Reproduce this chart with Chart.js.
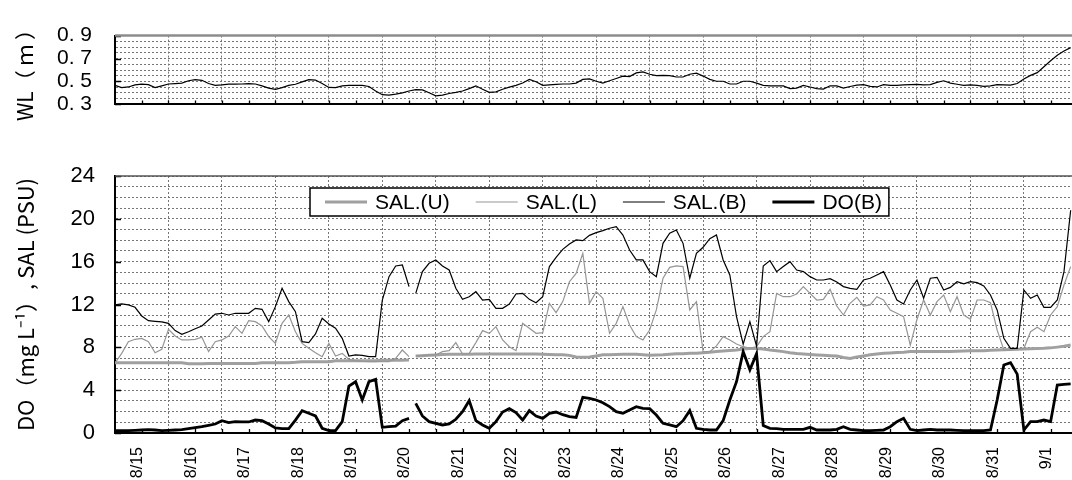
<!DOCTYPE html>
<html>
<head>
<meta charset="utf-8">
<script src="https://cdn.jsdelivr.net/npm/chart.js@4.4.1/dist/chart.umd.min.js"></script>
<style>
  html, body { margin: 0; padding: 0; background: #fff; overflow: hidden; }
  #wrap { position: relative; width: 1072px; height: 480px; }
  #wlBox { position: absolute; left: 0; top: 0; width: 1072px; height: 140px; }
  #doBox { position: absolute; left: 0; top: 140px; width: 1072px; height: 340px; }
</style>
</head>
<body>
<div id="wrap">
  <div id="wlBox"><canvas id="wlChart"></canvas></div>
  <div id="doBox"><canvas id="doChart"></canvas></div>
</div>
<script>
// 3-hourly records, 8 per day, from 8/15 00:00
const STEP = 1 / 8;
const X_MAX = 17.9;
const days = ['8/15', '8/16', '8/17', '8/18', '8/19', '8/20', '8/21', '8/22', '8/23',
  '8/24', '8/25', '8/26', '8/27', '8/28', '8/29', '8/30', '8/31', '9/1'];

// water level (m)
const wl = [
  0.466, 0.446, 0.452, 0.47, 0.476, 0.472, 0.446, 0.462, 0.478, 0.482,
  0.486, 0.506, 0.516, 0.51, 0.482, 0.466, 0.47, 0.476, 0.476, 0.478,
  0.482, 0.478, 0.462, 0.442, 0.432, 0.446, 0.466, 0.476, 0.496, 0.516,
  0.512, 0.482, 0.448, 0.446, 0.462, 0.466, 0.466, 0.466, 0.456, 0.417,
  0.385, 0.381, 0.389, 0.401, 0.417, 0.428, 0.426, 0.401, 0.375, 0.381,
  0.395, 0.405, 0.417, 0.438, 0.462, 0.432, 0.405, 0.409, 0.432, 0.45,
  0.466, 0.486, 0.518, 0.498, 0.466, 0.47, 0.474, 0.478, 0.478, 0.486,
  0.518, 0.522, 0.502, 0.486, 0.506, 0.526, 0.547, 0.543, 0.575, 0.583,
  0.563, 0.551, 0.553, 0.551, 0.539, 0.539, 0.563, 0.573, 0.547, 0.518,
  0.502, 0.502, 0.478, 0.478, 0.502, 0.502, 0.486, 0.466, 0.462, 0.462,
  0.462, 0.438, 0.442, 0.466, 0.452, 0.438, 0.434, 0.462, 0.462, 0.442,
  0.456, 0.468, 0.472, 0.458, 0.452, 0.472, 0.466, 0.466, 0.47, 0.472,
  0.474, 0.47, 0.472, 0.492, 0.506, 0.486, 0.476, 0.466, 0.47, 0.466,
  0.458, 0.462, 0.472, 0.47, 0.468, 0.482, 0.522, 0.553, 0.577, 0.628,
  0.68, 0.729, 0.765, 0.795
];

// salinity, upper layer (PSU)
const salU = [
  6.57, 6.57, 6.57, 6.57, 6.57, 6.57, 6.57, 6.57, 6.57, 6.57,
  6.57, 6.47, 6.47, 6.47, 6.5, 6.5, 6.5, 6.5, 6.5, 6.5,
  6.5, 6.5, 6.57, 6.57, 6.57, 6.57, 6.57, 6.6, 6.66, 6.66,
  6.66, 6.66, 6.66, 6.74, 6.74, 6.74, 6.74, 6.74, 6.74, 6.74,
  6.8, 6.8, 6.8, 6.8, 6.82, 7.19, 7.22, 7.26, 7.29, 7.32,
  7.35, 7.35, 7.35, 7.35, 7.38, 7.38, 7.38, 7.38, 7.38, 7.38,
  7.38, 7.38, 7.38, 7.38, 7.35, 7.32, 7.3, 7.3, 7.25, 7.1,
  7.07, 7.1, 7.2, 7.3, 7.3, 7.32, 7.35, 7.35, 7.35, 7.3,
  7.25, 7.28, 7.3, 7.35, 7.4, 7.4, 7.44, 7.44, 7.5, 7.55,
  7.6, 7.65, 7.7, 7.75, 7.85, 7.9, 7.9, 7.85, 7.75, 7.68,
  7.6, 7.5, 7.42, 7.38, 7.33, 7.29, 7.25, 7.22, 7.19, 7.05,
  6.97, 7.1, 7.2, 7.3, 7.38, 7.44, 7.48, 7.52, 7.55, 7.6,
  7.6, 7.6, 7.6, 7.6, 7.62, 7.62, 7.64, 7.66, 7.68, 7.69,
  7.69, 7.72, 7.75, 7.78, 7.8, 7.81, 7.84, 7.87, 7.9, 7.91,
  7.95, 8.02, 8.1, 8.22
];

// salinity, lower layer (PSU)
const salL = [
  6.51, 7.44, 8.53, 8.75, 8.84, 8.53, 7.5, 7.81, 9.68, 9.06,
  8.69, 8.69, 8.75, 8.94, 7.6, 8.53, 8.69, 9.06, 9.93, 9.31,
  10.49, 10.4, 9.99, 9.0, 8.37, 10.24, 11.02, 9.46, 8.37, 7.91,
  7.5, 7.13, 8.37, 7.19, 7.44, 6.88, 6.76, 6.69, 6.66, 6.66,
  6.66, 6.66, 6.97, 7.75, 7.13, 7.19, 7.25, 7.3, 7.29, 7.6,
  7.69, 8.44, 7.38, 7.44, 8.44, 9.56, 9.31, 9.93, 8.69, 8.06,
  7.69, 10.24, 9.78, 9.31, 9.37, 12.11, 11.24, 12.27, 14.13, 14.91,
  16.78, 12.11, 13.2, 12.58, 9.31, 10.24, 11.8, 10.09, 9.0, 8.69,
  9.62, 11.49, 14.45, 15.47, 15.6, 15.54, 11.49, 12.27, 7.6, 7.6,
  8.13, 9.0, 8.69, 8.31, 8.06, 7.91, 8.06, 9.0, 9.46, 13.04,
  12.73, 12.73, 12.98, 13.67, 13.04, 12.42, 12.48, 13.42, 11.86, 11.02,
  12.11, 12.67, 11.86, 11.96, 12.73, 12.42, 11.49, 11.18, 10.87, 8.2,
  10.6, 12.42, 11.02, 12.27, 12.89, 11.33, 12.73, 11.02, 10.62, 12.42,
  12.42, 12.17, 9.62, 7.75, 7.75, 7.88, 7.91, 9.46, 9.87, 9.46,
  11.02, 11.8, 13.82, 15.54
];

// salinity, bottom (PSU)
const salB = [
  11.96, 12.05, 11.96, 11.74, 10.93, 10.49, 10.43, 10.37, 10.24, 9.56,
  9.22, 9.46, 9.74, 9.99, 10.55, 11.11, 11.18, 11.02, 11.18, 11.18,
  11.18, 11.64, 11.55, 10.4, 11.8, 13.51, 12.27, 11.33, 8.53, 8.44,
  9.25, 10.71, 10.18, 9.78, 8.84, 7.19, 7.29, 7.25, 7.13, 7.13,
  12.42, 14.6, 15.6, 15.69, 13.67, 13.04, 15.07, 15.85, 16.16, 15.6,
  15.22, 13.51, 12.48, 12.73, 13.2, 12.42, 12.48, 11.64, 11.64, 12.05,
  12.98, 13.04, 12.48, 12.17, 12.73, 15.54, 16.41, 17.15, 17.65, 18.03,
  17.96, 18.46, 18.71, 18.9, 19.12, 19.27, 18.49, 17.09, 16.16, 16.16,
  15.07, 14.6, 17.71, 18.65, 18.96, 17.71, 14.45, 16.78, 17.34, 18.15,
  18.49, 16.16, 14.76, 10.87, 8.3, 10.4, 8.1, 15.6, 16.1, 15.07,
  15.54, 16.0, 15.22, 15.07, 14.6, 14.29, 14.29, 14.41, 14.1, 13.67,
  13.51, 13.42, 14.29, 14.45, 14.76, 15.07, 13.82, 12.42, 12.05, 13.36,
  14.29, 12.58, 14.45, 14.54, 13.36, 13.6, 14.13, 13.92, 14.13, 14.04,
  13.73, 12.89, 11.49, 8.84, 7.91, 7.91, 13.36, 12.58, 12.89, 11.74,
  11.74, 12.42, 15.07, 20.8
];

// dissolved oxygen, bottom (mg/L)
const doB = [
  0.22, 0.22, 0.22, 0.25, 0.28, 0.31, 0.28, 0.22, 0.25, 0.28,
  0.31, 0.4, 0.5, 0.59, 0.72, 0.84, 1.15, 0.97, 1.06, 1.03,
  1.03, 1.21, 1.15, 0.84, 0.47, 0.4, 0.4, 1.21, 2.09, 1.84,
  1.59, 0.44, 0.22, 0.22, 1.06, 4.39, 4.79, 3.08, 4.79, 5.01,
  0.53, 0.59, 0.65, 1.15, 1.37, 2.77, 1.59, 1.06, 0.9, 0.75,
  0.84, 1.28, 1.99, 3.02, 1.15, 0.75, 0.44, 1.06, 1.96, 2.27,
  1.9, 1.21, 2.09, 1.59, 1.37, 1.84, 1.96, 1.71, 1.53, 1.46,
  3.33, 3.24, 3.08, 2.83, 2.46, 1.99, 1.84, 2.15, 2.46, 2.3,
  2.27, 1.68, 0.9, 0.75, 0.59, 1.15, 2.09, 0.44, 0.34, 0.28,
  0.28, 1.15, 3.08, 4.79, 7.6, 5.9, 7.4, 0.7, 0.44, 0.4,
  0.34, 0.34, 0.34, 0.34, 0.53, 0.28, 0.28, 0.28, 0.34, 0.59,
  0.34, 0.28, 0.22, 0.22, 0.25, 0.28, 0.59, 1.06, 1.37, 0.34,
  0.22, 0.28, 0.34, 0.28, 0.28, 0.28, 0.25, 0.22, 0.22, 0.22,
  0.22, 0.28, 3.08, 6.35, 6.57, 5.5, 0.28, 1.06, 1.06, 1.21,
  1.06, 4.48, 4.55, 4.58
];

// sensors were out between these two records on 8/20
const GAP_AFTER = 44;

const wlTicks = [0.3, 0.5, 0.7, 0.9];
const doTicks = [0, 4, 8, 12, 16, 20, 24];

const LATIN = "'Liberation Sans', Arial, sans-serif";
const JP = "'Noto Sans CJK JP', 'Liberation Sans', sans-serif";
const GRID = '#767676';

Chart.defaults.color = '#000';
Chart.defaults.font.family = LATIN;

const toPoints = arr => arr.map((v, i) => ({ x: i * STEP, y: v }));
const gapSegment = {
  borderColor: c => (c.p0DataIndex === GAP_AFTER ? 'rgba(0,0,0,0)' : undefined)
};

// short inward tick marks + the top edge of the frame
const innerTicks = {
  id: 'innerTicks',
  afterDraw(chart, args, opts) {
    const { ctx, chartArea: a, scales: { x, y } } = chart;
    ctx.save();
    ctx.strokeStyle = '#000';
    ctx.lineWidth = 1.3;
    ctx.beginPath();
    for (let d = 0.5; d < X_MAX; d += 0.5) {
      const px = Math.round(x.getPixelForValue(d)) + 0.5;
      ctx.moveTo(px, a.bottom);
      ctx.lineTo(px, a.bottom - 4);
    }
    for (const v of opts.major) {
      const py = Math.round(y.getPixelForValue(v)) + 0.5;
      ctx.moveTo(a.left, py);
      ctx.lineTo(a.left + 6, py);
    }
    ctx.stroke();
    ctx.strokeStyle = opts.topColor;
    ctx.lineWidth = opts.topWidth;
    ctx.beginPath();
    ctx.moveTo(a.left, a.top);
    ctx.lineTo(a.right, a.top);
    ctx.stroke();
    ctx.restore();
  }
};

// boxed legend sitting inside the plot
const legendBox = {
  id: 'legendBox',
  afterDraw(chart, args, opts) {
    const { ctx, chartArea: a } = chart;
    const sets = chart.data.datasets;
    ctx.save();
    ctx.font = opts.font;
    const widths = sets.map(ds => ctx.measureText(ds.label).width);
    const lineLen = 42, gapText = 8, gapItem = 26, padL = 15, padR = 7;
    const boxW = padL + padR + widths.reduce((s, w) => s + lineLen + gapText + w, 0) + gapItem * (sets.length - 1);
    const bx = a.left + opts.left, by = a.top + opts.top, bh = opts.height;
    ctx.fillStyle = '#fff';
    ctx.fillRect(bx, by, boxW, bh);
    ctx.strokeStyle = '#000';
    ctx.lineWidth = 1.5;
    ctx.strokeRect(bx, by, boxW, bh);
    const cy = by + bh / 2;
    let cx = bx + padL;
    ctx.textBaseline = 'middle';
    ctx.textAlign = 'left';
    ctx.fillStyle = '#000';
    sets.forEach((ds, i) => {
      ctx.strokeStyle = ds.borderColor;
      ctx.lineWidth = ds.borderWidth;
      ctx.beginPath();
      ctx.moveTo(cx, cy);
      ctx.lineTo(cx + lineLen, cy);
      ctx.stroke();
      cx += lineLen + gapText;
      ctx.fillText(ds.label, cx, cy + 1);
      cx += widths[i] + gapItem;
    });
    ctx.restore();
  }
};

function xScale(height, showLabels) {
  return {
    type: 'linear',
    min: 0,
    max: X_MAX,
    border: { color: '#000', width: 2, dash: [2, 2] },
    grid: {
      drawTicks: false,
      color: c => (c.tick && Math.abs(c.tick.value % 1) < 1e-6 ? GRID : 'rgba(0,0,0,0)'),
      lineWidth: 1
    },
    ticks: {
      display: showLabels,
      stepSize: 0.5,
      autoSkip: false,
      includeBounds: false,
      maxRotation: 90,
      minRotation: 90,
      padding: 14,
      labelOffset: -4,
      font: { size: 16, family: LATIN },
      callback: v => (Math.abs(v % 1 - 0.5) < 1e-6 ? days[Math.floor(v)] : '')
    },
    afterFit: s => { s.height = height; s.paddingLeft = 0; s.paddingRight = 0; }
  };
}

new Chart(document.getElementById('wlChart'), {
  type: 'line',
  data: {
    datasets: [{
      label: 'WL',
      data: toPoints(wl),
      borderColor: '#000',
      borderWidth: 1.2,
      pointRadius: 0,
      tension: 0
    }]
  },
  options: {
    responsive: true,
    maintainAspectRatio: false,
    animation: false,
    devicePixelRatio: 1,
    layout: { padding: { top: 28, left: 0, right: 0, bottom: 0 } },
    plugins: {
      legend: { display: false },
      tooltip: { enabled: false },
      innerTicks: { major: wlTicks, topColor: '#8c8c8c', topWidth: 2.5 }
    },
    scales: {
      x: xScale(13, false),
      y: {
        min: 0.3,
        max: 0.9,
        border: { color: '#000', width: 2, dash: [2, 2] },
        grid: { drawTicks: false, color: GRID, lineWidth: 1 },
        ticks: {
          stepSize: 0.05,
          autoSkip: false,
          padding: 23,
          font: { size: 21, family: LATIN },
          callback: v => {
            const k = Math.round(v * 100);
            return wlTicks.some(t => Math.round(t * 100) === k) ? (k / 100).toFixed(1).replace('.', '. ') : '';
          }
        },
        title: {
          display: true,
          text: 'WL（ ｍ ）',
          font: { size: 21, family: JP },
          padding: { top: 12, bottom: 0 }
        },
        afterFit: s => { s.width = 115; }
      }
    }
  },
  plugins: [innerTicks]
});

new Chart(document.getElementById('doChart'), {
  type: 'line',
  data: {
    datasets: [
      { label: 'SAL.(U)', data: toPoints(salU), borderColor: '#a0a0a0', borderWidth: 3, order: 3 },
      { label: 'SAL.(L)', data: toPoints(salL), borderColor: '#969696', borderWidth: 1.2, order: 2 },
      { label: 'SAL.(B)', data: toPoints(salB), borderColor: '#000', borderWidth: 1.2, order: 1 },
      { label: 'DO(B)', data: toPoints(doB), borderColor: '#000', borderWidth: 2.8, order: 0 }
    ].map(ds => Object.assign(ds, { pointRadius: 0, tension: 0, segment: gapSegment }))
  },
  options: {
    responsive: true,
    maintainAspectRatio: false,
    animation: false,
    devicePixelRatio: 1,
    layout: { padding: { top: 36, left: 0, right: 0, bottom: 0 } },
    plugins: {
      legend: { display: false },
      tooltip: { enabled: false },
      innerTicks: { major: doTicks, topColor: '#555', topWidth: 1.5 },
      legendBox: { left: 195, top: 12, height: 28, font: '21px ' + LATIN }
    },
    scales: {
      x: xScale(47, true),
      y: {
        min: 0,
        max: 24,
        border: { color: '#000', width: 2, dash: [2, 2] },
        grid: { drawTicks: false, color: GRID, lineWidth: 1 },
        ticks: {
          stepSize: 1,
          autoSkip: false,
          padding: 20,
          font: { size: 22, family: LATIN },
          callback: v => (doTicks.includes(v) ? String(v) : '')
        },
        title: {
          display: true,
          text: 'DO（mg L⁻¹）, SAL (PSU)',
          font: { size: 22, family: JP },
          padding: { top: 12, bottom: 0 }
        },
        afterFit: s => { s.width = 115; }
      }
    }
  },
  plugins: [innerTicks, legendBox]
});
</script>
</body>
</html>
